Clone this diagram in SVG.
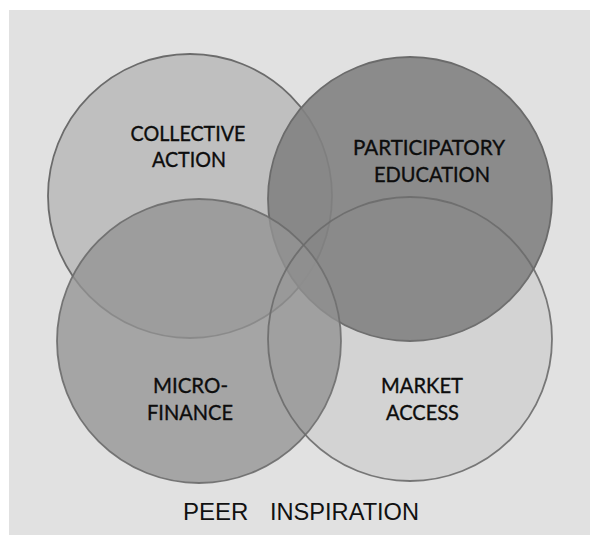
<svg xmlns="http://www.w3.org/2000/svg" width="590" height="535" viewBox="0 0 590 535">
<style>
.c{stroke:#6b6b6b;stroke-width:1.8}
.t{font-family:Lato,"Open Sans","Liberation Sans",sans-serif;font-size:21px;fill:#0d0d0d;stroke:#0d0d0d;stroke-width:0.35;text-anchor:middle}
.p{font-family:"Liberation Sans",Arial,sans-serif;font-size:24px;fill:#111}
</style>
<rect x="0" y="0" width="590" height="535" fill="#ffffff"/>
<rect x="9" y="10" width="581" height="525" fill="#e1e1e1"/>
<g id="collective-action">
<circle class="c" cx="190" cy="196" r="142" fill="#bfbfbf"/>
</g>
<g id="participatory-education">
<circle class="c" cx="410" cy="199" r="142" fill="#828282" fill-opacity="0.9"/>
</g>
<g id="micro-finance">
<circle class="c" cx="199" cy="341" r="142" fill="#939393" fill-opacity="0.78" stroke-opacity="0.9"/>
</g>
<g id="market-access">
<circle class="c" cx="410" cy="339" r="142" fill="#838383" fill-opacity="0.15" stroke-opacity="0.9"/>
</g>
<g id="labels">
<text class="t" x="188" y="141" textLength="115" lengthAdjust="spacingAndGlyphs">COLLECTIVE</text>
<text class="t" x="189" y="167" textLength="74" lengthAdjust="spacingAndGlyphs">ACTION</text>
<text class="t" x="429" y="155" textLength="152" lengthAdjust="spacingAndGlyphs">PARTICIPATORY</text>
<text class="t" x="432" y="182" textLength="116" lengthAdjust="spacingAndGlyphs">EDUCATION</text>
<text class="t" x="190.5" y="393" textLength="75" lengthAdjust="spacingAndGlyphs">MICRO-</text>
<text class="t" x="190" y="420" textLength="86" lengthAdjust="spacingAndGlyphs">FINANCE</text>
<text class="t" x="422" y="393" textLength="82" lengthAdjust="spacingAndGlyphs">MARKET</text>
<text class="t" x="422.5" y="420" textLength="73" lengthAdjust="spacingAndGlyphs">ACCESS</text>
<text class="p" y="520"><tspan x="183">PEER</tspan><tspan x="270" textLength="149" lengthAdjust="spacingAndGlyphs">INSPIRATION</tspan></text>
</g>
</svg>
